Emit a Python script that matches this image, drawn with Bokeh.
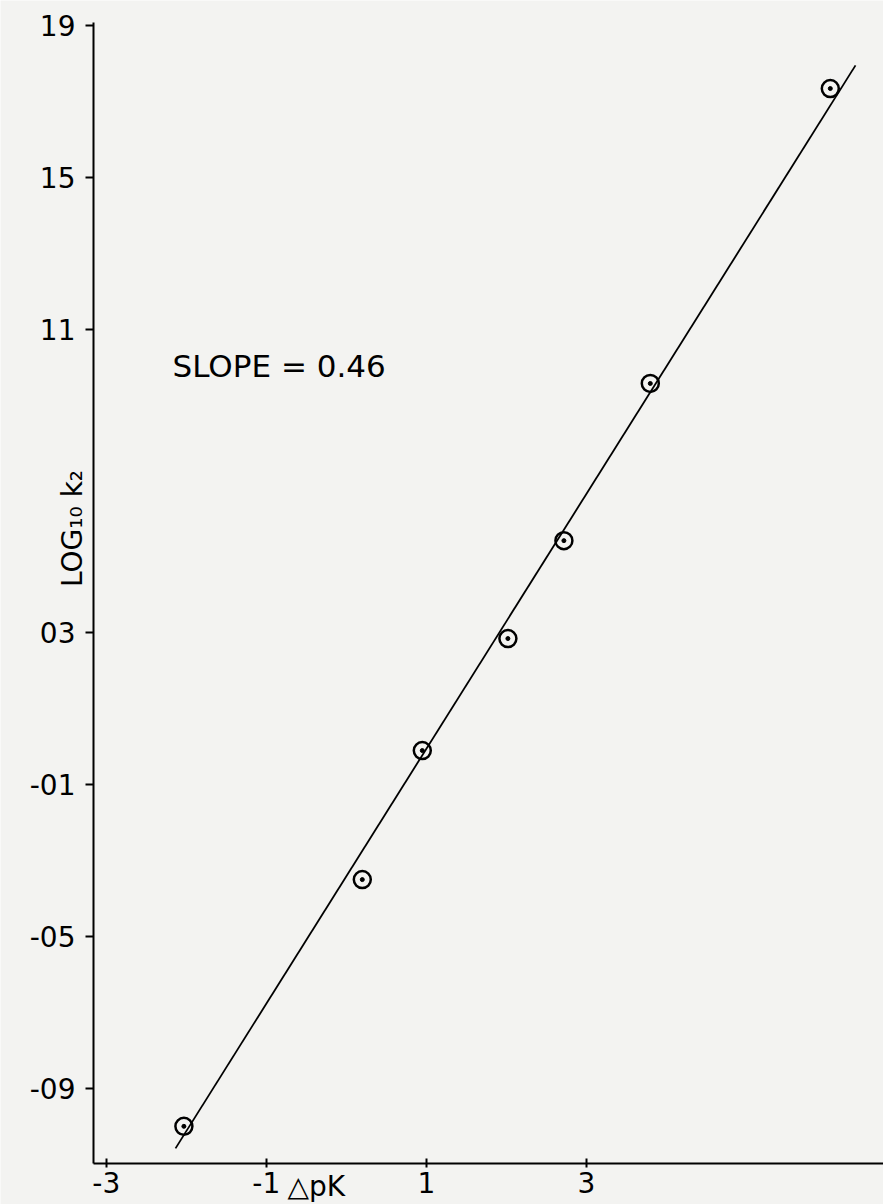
from bokeh.plotting import figure
from bokeh.models import FixedTicker, Label, Range1d
from bokeh.embed import file_html
from bokeh.resources import INLINE
import math

# Data
dpk = [-2.03, 0.20, 0.95, 2.02, 2.72, 3.80, 6.05]
logk2 = [-1.00, -0.35, -0.01, 0.285, 0.543, 0.957, 1.734]
fit_x = [-2.135, 6.365]
fit_y = [-1.058, 1.795]

y_ticks = [-0.9, -0.5, -0.1, 0.3, 1.1, 1.5, 1.9]
y_tick_labels = ["-09", "-05", "-01", "03", "11", "15", "19"]
x_ticks = [-3, -1, 1, 3]
x_tick_labels = ["-3", "-1", "1", "3"]

X_AXIS_AT = -1.098   # y value where the x axis sits
Y_AXIS_AT = -3.16    # x value where the y axis sits
Y_TOP = 1.908
X_RIGHT = 6.715

FONT = "DejaVu Sans"
BG = "#f3f3f1"

p = figure(width=883, height=1204, output_backend="svg", toolbar_location=None,
           x_range=Range1d(-4.3225, 6.715), y_range=Range1d(-1.2059, 1.9659),
           min_border_left=0, min_border_right=0, min_border_top=0, min_border_bottom=0)
p.background_fill_color = BG
p.border_fill_color = BG
p.outline_line_color = None
p.xgrid.grid_line_color = None
p.ygrid.grid_line_color = None

p.line(fit_x, fit_y, line_color="black", line_width=1.8)
p.scatter(dpk, logk2, marker="circle", size=17, fill_color=None,
          line_color="black", line_width=2.5)
p.scatter(dpk, logk2, marker="circle", size=4, fill_color="black", line_color="black")

ya = p.yaxis[0]
ya.fixed_location = Y_AXIS_AT
ya.bounds = (X_AXIS_AT, Y_TOP)
ya.ticker = FixedTicker(ticks=y_ticks)
ya.major_label_overrides = dict(zip(y_ticks, y_tick_labels))
ya.axis_line_width = 2
ya.major_tick_line_width = 2
ya.major_tick_out = 8
ya.major_tick_in = 0
ya.minor_tick_line_color = None
ya.major_label_standoff = 10
ya.major_label_text_font = FONT
ya.major_label_text_font_size = "28px"
ya.major_label_text_color = "black"

xa = p.xaxis[0]
xa.fixed_location = X_AXIS_AT
xa.bounds = (Y_AXIS_AT, X_RIGHT)
xa.ticker = FixedTicker(ticks=x_ticks)
xa.major_label_overrides = dict(zip(x_ticks, x_tick_labels))
xa.axis_line_width = 2
xa.major_tick_line_width = 2
xa.major_tick_out = 4
xa.major_tick_in = 5
xa.minor_tick_line_color = None
xa.major_label_standoff = 4
xa.major_label_text_font = FONT
xa.major_label_text_font_size = "28px"
xa.major_label_text_color = "black"

p.add_layout(Label(x=-2.1725, y=1.0043, text="SLOPE = 0.46", text_font=FONT,
                   text_font_size="31px", text_color="black", text_baseline="alphabetic"))
p.add_layout(Label(x=-0.735, y=X_AXIS_AT, y_offset=-6, text="\u25b3pK", text_font=FONT,
                   text_font_size="28px", text_color="black", text_baseline="top"))
p.add_layout(Label(x=-3.42, y=0.575, angle=math.pi / 2,
                   text="LOG\u2081\u2080 k\u2082", text_font=FONT, text_font_size="28px",
                   text_color="black", text_align="center", text_baseline="alphabetic"))

open("out.html", "w").write(file_html(p, INLINE))
